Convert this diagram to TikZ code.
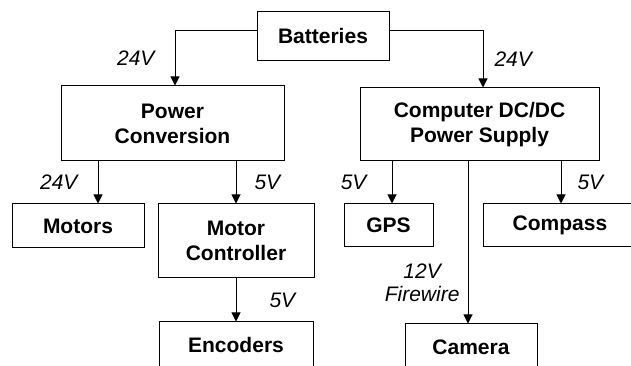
\documentclass[tikz,border=0pt]{standalone}
\usepackage{fontspec}
\setmainfont{Liberation Sans}
\usepackage{tikz}
\usetikzlibrary{arrows.meta,positioning}
\tikzset{
  % Base styles
  diagram base/.style={
    >={Triangle[width=9pt,length=9pt]},
    x=1pt, y=1pt,
  },
  % Power units
  unit node/.style={rectangle, draw, line width=1pt, align=center, inner sep=2pt,
    font=\fontsize{21}{25}\selectfont\bfseries},
  % Supply lines
  feed line/.style={->, line width=1pt},
  % Voltage labels
  volt label/.style={font=\fontsize{21}{23}\selectfont\itshape, align=center, inner sep=0pt},
}

\begin{document}
\begin{tikzpicture}[diagram base]
\useasboundingbox (0,0) rectangle (631,366);
\clip (0,0) rectangle (631,366);

% Root node
\node[unit node, minimum width=132pt, minimum height=49pt] (batt) at (323,329.5) {Batteries};

% Converters
\node[unit node, minimum width=223pt, minimum height=75pt] (pc) at (172.5,242.5) {Power\\Conversion};
\node[unit node, minimum width=239pt, minimum height=73pt] (dc) at (479.5,241.5) {Computer DC/DC\\Power Supply};

% Loads
\node[unit node, minimum width=132pt, minimum height=44pt] (motors) at (78,140) {Motors};
\node[unit node, minimum width=156pt, minimum height=74pt] (mc) at (236,125) {Motor\\Controller};
\node[unit node, minimum width=154pt, minimum height=46pt, below=43pt of mc] (enc) {Encoders};
\node[unit node, minimum width=89pt, minimum height=43pt] (gps) at (388.5,140.5) {GPS};
\node[unit node, minimum width=154pt, minimum height=43pt] (comp) at (560,140.5) {Compass};
\node[unit node, minimum width=132pt, minimum height=46pt] (cam) at (471,19) {Camera};

% Edges from root
\draw[feed line] ([yshift=5.5pt]batt.west) -| node[volt label, left=20pt, pos=0.75] {24V} ([xshift=2.5pt]pc.north);
\draw[feed line] ([yshift=5.5pt]batt.east) -| node[volt label, right=11pt, pos=0.75] {24V} ([xshift=3.5pt]dc.north);

% Edges from power conversion
\draw[feed line] ([xshift=20pt]motors.north |- pc.south) -- node[volt label, left=20pt] {24V} ([xshift=20pt]motors.north);
\draw[feed line] (mc.north |- pc.south) -- node[volt label, right=18pt] {5V} (mc.north);
\draw[feed line] (mc) -- node[volt label, right=33pt] {5V} (enc);

% Edges from computer supply
\draw[feed line] ([xshift=3.5pt]gps.north |- dc.south) -- node[volt label, left=25pt] {5V} ([xshift=3.5pt]gps.north);
\draw[feed line] ([xshift=1pt]comp.north |- dc.south) -- node[volt label, right=16pt] {5V} ([xshift=1pt]comp.north);
\draw[feed line] ([xshift=-3pt]cam.north |- dc.south) -- node[volt label, left=8pt, pos=0.75] {12V\\Firewire} ([xshift=-3pt]cam.north);
\end{tikzpicture}
\end{document}
